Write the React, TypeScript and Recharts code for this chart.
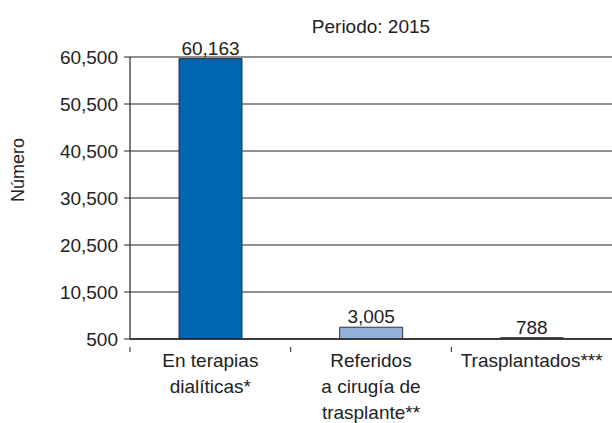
import * as React from "react";
import {
  BarChart,
  Bar,
  XAxis,
  YAxis,
  CartesianGrid,
  LabelList,
  Cell,
} from "recharts";

const categories = [
  "En terapias\ndialíticas*",
  "Referidos\na cirugía de\ntrasplante**",
  "Trasplantados***",
];
const values = [60163, 3005, 788];
const barColors = ["#0066b2", "#93b1db", "#93b1db"];
const yTicks = [500, 10500, 20500, 30500, 40500, 50500, 60500];

const data = categories.map((name, i) => ({ name, value: values[i] }));

const FONT = "'Liberation Sans', Arial, sans-serif";
const fmt = (v: number) => v.toLocaleString("en-US");

function CategoryTick(props: any) {
  const { x, y, payload } = props;
  const lines = String(payload.value).split("\n");
  const half = payload.offset || 0;
  return (
    <g>
      <line x1={x - half} y1={y} x2={x - half} y2={y + 5} stroke="#222" />
      <text x={x} y={y + 20} textAnchor="middle" fontSize={19} fill="#222" fontFamily={FONT}>
        {lines.map((l, i) => (
          <tspan key={i} x={x} dy={i === 0 ? 0 : 26}>
            {l}
          </tspan>
        ))}
      </text>
    </g>
  );
}

export default function App() {
  return (
    <div style={{ position: "relative", width: 612, height: 423, background: "#fff", fontFamily: FONT }}>
      <style>{`body{margin:0}`}</style>
      <div
        style={{
          position: "absolute",
          left: 271,
          width: 200,
          top: 16,
          textAlign: "center",
          fontSize: 19,
          color: "#222",
        }}
      >
        Periodo: 2015
      </div>
      <div
        style={{
          position: "absolute",
          left: 18,
          top: 170,
          transform: "translate(-50%, -50%) rotate(-90deg)",
          fontSize: 18,
          color: "#222",
          whiteSpace: "nowrap",
        }}
      >
        Número
      </div>
      <BarChart
        width={612}
        height={423}
        data={data}
        margin={{ top: 57, right: 0, bottom: 0, left: 0 }}
      >
        <CartesianGrid vertical={false} stroke="#222" strokeWidth={1.2} />
        <XAxis
          dataKey="name"
          interval={0}
          axisLine={{ stroke: "#222", strokeWidth: 1.5 }}
          tickLine={false}
          tick={<CategoryTick />}
          height={84}
        />
        <YAxis
          width={130}
          domain={[500, 60500]}
          ticks={yTicks}
          tickFormatter={fmt}
          allowDataOverflow
          axisLine={{ stroke: "#222", strokeWidth: 1.2 }}
          tickLine={{ stroke: "#222" }}
          tickSize={6}
          tickMargin={6}
          tick={{ fontSize: 19, fill: "#222", fontFamily: FONT }}
        />
        <Bar dataKey="value" barSize={63} stroke="#333" strokeWidth={1} isAnimationActive={false}>
          {data.map((d, i) => (
            <Cell key={d.name} fill={barColors[i]} />
          ))}
          <LabelList
            dataKey="value"
            position="top"
            offset={4}
            formatter={(v: any) => fmt(Number(v))}
            style={{ fontSize: 19, fill: "#222", fontFamily: FONT }}
          />
        </Bar>
      </BarChart>
    </div>
  );
}
